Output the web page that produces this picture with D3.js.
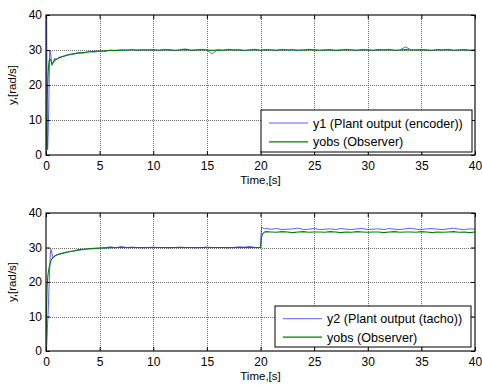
<!DOCTYPE html>
<html>
<head>
<meta charset="utf-8">
<script src="https://cdn.jsdelivr.net/npm/d3@7"></script>
<style>
  html, body { margin: 0; padding: 0; background: #fff; }
  svg { display: block; font-family: "Liberation Sans", Arial, sans-serif; }
  .tick text { font-size: 12px; fill: #000; }
</style>
</head>
<body>
<svg id="chart" width="482" height="385"></svg>
<script>
// ---- Panel 1: encoder output vs observer ----
const time1 = [
  0, 0.02, 0.06, 0.1, 0.15, 0.2, 0.25, 0.3, 0.35, 0.4,
  0.5, 0.55, 0.65, 0.8, 1.0, 1.2, 1.5, 2.0, 2.5, 3.0,
  3.5, 4.0, 4.5, 5.0, 5.5, 6.0, 6.5, 7.0, 7.5, 8.0,
  8.5, 9.0, 9.5,
  10, 10.5, 11, 11.5, 12, 12.5, 13, 13.5, 14, 14.5,
  15, 15.5, 16, 16.5, 17, 17.5, 18, 18.5, 19, 19.5,
  20, 20.5, 21, 21.5, 22, 22.5, 23, 23.5, 24, 24.5,
  25, 25.5, 26, 26.5, 27, 27.5, 28, 28.5, 29, 29.5,
  30, 30.5, 31, 31.5, 32, 32.5, 33, 33.5, 34, 34.5,
  35, 35.5, 36, 36.5, 37, 37.5, 38, 38.5, 39, 39.5,
  40
];
const y1Encoder = [
  0, 40, 40, 18, 1.5, 6, 13, 22, 30, 29.6,
  27, 25.6, 26.4, 27.6, 27.3, 27.9, 28.1, 28.7, 28.8, 29.2,
  29.1, 29.6, 29.4, 29.7, 29.6, 30.0, 29.8, 30.1, 29.9, 30.2,
  29.9, 30.1, 30.0,
  30.1, 29.9, 30.2, 30.0, 29.8, 30.1, 30.3, 29.9, 30.0, 30.2,
  30.0, 28.9, 30.1, 29.9, 30.2, 30.0, 30.1, 29.8, 30.0, 30.2,
  29.9, 30.1, 30.0, 29.9, 30.2, 30.0, 30.1, 29.9, 30.0, 30.2,
  30.1, 29.9, 30.0, 30.1, 29.8, 30.0, 30.2, 30.0, 29.9, 30.1,
  30.0, 29.9, 30.1, 30.0, 30.2, 29.9, 30.0, 30.9, 30.1, 30.0,
  30.1, 30.0, 29.8, 30.1, 30.0, 30.2, 29.9, 30.0, 30.1, 29.9,
  30.0
];
const yObs1 = [
  0, 3, 9, 15, 20, 23.5, 25.8, 27.0, 27.4, 27.3,
  26.6, 26.0, 26.3, 27.0, 27.4, 27.7, 28.1, 28.5, 28.9, 29.1,
  29.3, 29.45, 29.6, 29.7, 29.75, 29.85, 29.9, 29.95, 30.0, 30.0,
  30.0, 30.0, 30.0,
  30.05, 29.95, 30.0, 30.05, 29.95, 30.0, 30.1, 29.95, 30.0, 30.05,
  30.0, 29.9, 30.0, 29.95, 30.05, 30.0, 30.0, 29.95, 30.0, 30.05,
  29.95, 30.05, 30.0, 29.95, 30.05, 30.0, 30.0, 29.95, 30.0, 30.05,
  30.0, 29.95, 30.0, 30.05, 29.9, 30.0, 30.05, 30.0, 29.95, 30.05,
  30.0, 29.95, 30.05, 30.0, 30.05, 29.95, 30.0, 30.1, 30.0, 30.0,
  30.05, 30.0, 29.95, 30.05, 30.0, 30.05, 29.95, 30.0, 30.05, 29.95,
  30.0
];

// ---- Panel 2: tachometer output vs observer ----
const time2 = [
  0, 0.05, 0.1, 0.15, 0.2, 0.3, 0.4, 0.45, 0.5, 0.6,
  0.7, 0.85, 1.0,
  1.5, 2, 2.5, 3, 3.5, 4, 4.5, 5, 5.5, 6,
  6.5, 7, 7.5, 8, 8.5, 9, 9.5, 10, 10.5, 11,
  11.5, 12, 12.5, 13, 13.5, 14, 14.5, 15, 15.5, 16,
  16.5, 17, 17.5, 18, 18.5, 19, 19.5,
  20.0, 20.05, 20.1, 20.2, 20.35, 20.5,
  21, 21.5, 22, 22.5, 23, 23.5, 24, 24.5, 25, 25.5,
  26, 26.5, 27, 27.5, 28, 28.5, 29, 29.5, 30, 30.5,
  31, 31.5, 32, 32.5, 33, 33.5, 34, 34.5, 35, 35.5,
  36, 36.5, 37, 37.5, 38, 38.5, 39, 39.5, 40
];
const y2Tacho = [
  0, 0.5, 4, 8, 11, 20, 28, 29.5, 29.2, 27.5,
  27.0, 27.6, 27.9,
  28.3, 28.7, 28.9, 29.2, 29.4, 29.6, 29.7, 29.8, 29.9, 30.2,
  29.9, 30.3, 30.0, 30.1, 30.0, 29.9, 30.0, 30.1, 30.0, 30.0,
  29.9, 30.0, 30.1, 30.0, 30.0, 29.9, 30.0, 30.1, 30.0, 30.0,
  30.0, 29.9, 30.0, 30.2, 30.1, 30.3, 30.0,
  30.0, 34.0, 36.0, 35.7, 35.4, 35.5,
  35.3, 35.5, 35.2, 35.3, 35.4, 35.6, 35.2, 35.3, 35.5, 35.2,
  35.3, 35.4, 35.2, 35.5, 35.3, 35.2, 35.4, 35.5, 35.2, 35.3,
  35.4, 35.2, 35.5, 35.3, 35.2, 35.4, 35.6, 35.3, 35.2, 35.4,
  35.5, 35.3, 35.2, 35.4, 35.6, 35.3, 35.2, 35.4, 35.3
];
const yObs2 = [
  0, 12, 18.5, 21, 22.5, 24.3, 25.6, 26.0, 26.4, 26.9,
  27.2, 27.6, 27.8,
  28.3, 28.7, 29.0, 29.3, 29.5, 29.65, 29.75, 29.85, 29.9, 29.95,
  30.0, 30.0, 30.0, 30.0, 30.0, 30.0, 30.0, 30.0, 30.0, 30.0,
  30.0, 30.0, 30.0, 30.0, 30.0, 30.0, 30.0, 30.0, 30.0, 30.0,
  30.0, 30.0, 30.0, 30.0, 30.0, 30.0, 30.0,
  30.0, 31.5, 33.0, 34.0, 34.4, 34.6,
  34.5, 34.4, 34.6, 34.5, 34.3, 34.5, 34.6, 34.4, 34.5, 34.5,
  34.4, 34.6, 34.5, 34.3, 34.5, 34.4, 34.6, 34.5, 34.4, 34.5,
  34.5, 34.3, 34.5, 34.6, 34.4, 34.5, 34.5, 34.4, 34.6, 34.5,
  34.3, 34.5, 34.4, 34.5, 34.6, 34.4, 34.5, 34.3, 34.5
];

const xTicks = [0, 5, 10, 15, 20, 25, 30, 35, 40];
const yTicks = [0, 10, 20, 30, 40];
const xLabel = "Time,[s]";
const yLabel = "y,[rad/s]";
const legend1 = ["y1 (Plant output (encoder))", "yobs (Observer)"];
const legend2 = ["y2 (Plant output (tacho))", "yobs (Observer)"];

const BLUE = "#1a1aff";
const GREEN = "#008000";

const svg = d3.select("#chart");

function panel(cfg) {
  const { left, right, top, bottom, t, a, b, names, leg } = cfg;
  const w = right - left, h = bottom - top;
  const x = d3.scaleLinear().domain([0, 40]).range([0, w]);
  const y = d3.scaleLinear().domain([0, 40]).range([h, 0]);
  const g = svg.append("g").attr("transform", `translate(${left},${top})`);

  const clipId = "clip" + cfg.id;
  g.append("clipPath").attr("id", clipId)
    .append("rect").attr("width", w).attr("height", h);

  // dotted grid
  g.append("g").selectAll("line").data(xTicks.slice(1, -1)).join("line")
    .attr("x1", d => Math.round(x(d)) + 0.5).attr("x2", d => Math.round(x(d)) + 0.5)
    .attr("y1", 0).attr("y2", h)
    .attr("stroke", "#707070").attr("stroke-width", 1).attr("stroke-dasharray", "1,1");
  g.append("g").selectAll("line").data(yTicks.slice(1, -1)).join("line")
    .attr("y1", d => Math.round(y(d)) + 0.5).attr("y2", d => Math.round(y(d)) + 0.5)
    .attr("x1", 0).attr("x2", w)
    .attr("stroke", "#707070").attr("stroke-width", 1).attr("stroke-dasharray", "1,1");

  // data lines
  const pts = (vals) => t.map((tt, i) => [tt, vals[i]]);
  const line = d3.line().x(d => x(d[0])).y(d => y(d[1]));
  const lines = g.append("g").attr("clip-path", `url(#${clipId})`);
  lines.append("path").attr("d", line(pts(a)))
    .attr("fill", "none").attr("stroke", BLUE).attr("stroke-width", 0.7);
  lines.append("path").attr("d", line(pts(b)))
    .attr("fill", "none").attr("stroke", GREEN).attr("stroke-width", 1.1);

  // axes with inward ticks on all four sides
  const ax = (sel) => { sel.select(".domain").remove(); sel.selectAll(".tick line").attr("stroke", "#000"); };
  g.append("g").attr("transform", `translate(0,${h})`)
    .call(d3.axisBottom(x).tickValues(xTicks).tickSize(-4).tickPadding(4)).call(ax)
    .selectAll("text").attr("dy", "0.9em");
  g.append("g")
    .call(d3.axisTop(x).tickValues(xTicks).tickSize(-4).tickFormat("")).call(ax);
  g.append("g")
    .call(d3.axisLeft(y).tickValues(yTicks).tickSize(-4).tickPadding(4)).call(ax);
  g.append("g").attr("transform", `translate(${w},0)`)
    .call(d3.axisRight(y).tickValues(yTicks).tickSize(-4).tickFormat("")).call(ax);

  // axes box
  g.append("rect").attr("x", 0).attr("y", 0).attr("width", w).attr("height", h)
    .attr("fill", "none").attr("stroke", "#111").attr("stroke-width", 1.2);

  // axis labels
  g.append("text").attr("x", w / 2).attr("y", h + 29)
    .attr("text-anchor", "middle").attr("font-size", 11.5).text(xLabel);
  g.append("text").attr("transform", `translate(-30,${h / 2}) rotate(-90)`)
    .attr("text-anchor", "middle").attr("font-size", 11.5).text(yLabel);

  // legend
  const lg = g.append("g").attr("transform", `translate(${leg.x - left},${leg.y - top})`);
  lg.append("rect").attr("width", leg.w).attr("height", leg.h)
    .attr("fill", "#fff").attr("stroke", "#000").attr("stroke-width", 1);
  const rows = [{ n: names[0], c: BLUE, sw: 0.7 }, { n: names[1], c: GREEN, sw: 1.1 }];
  rows.forEach((r, i) => {
    const cy = leg.h * (i === 0 ? 0.31 : 0.76);
    lg.append("line").attr("x1", leg.lx).attr("x2", leg.lx + 39)
      .attr("y1", cy).attr("y2", cy).attr("stroke", r.c).attr("stroke-width", r.sw);
    lg.append("text").attr("x", leg.lx + 44).attr("y", cy + 4.5)
      .attr("font-size", 12.6).text(r.n);
  });
}

panel({ id: 1, left: 46, right: 475, top: 15, bottom: 155,
  t: time1, a: y1Encoder, b: yObs1, names: legend1,
  leg: { x: 261, y: 110, w: 211, h: 42, lx: 8 } });
panel({ id: 2, left: 46, right: 475, top: 213, bottom: 351,
  t: time2, a: y2Tacho, b: yObs2, names: legend2,
  leg: { x: 275, y: 306, w: 196, h: 41, lx: 8 } });
</script>
</body>
</html>
